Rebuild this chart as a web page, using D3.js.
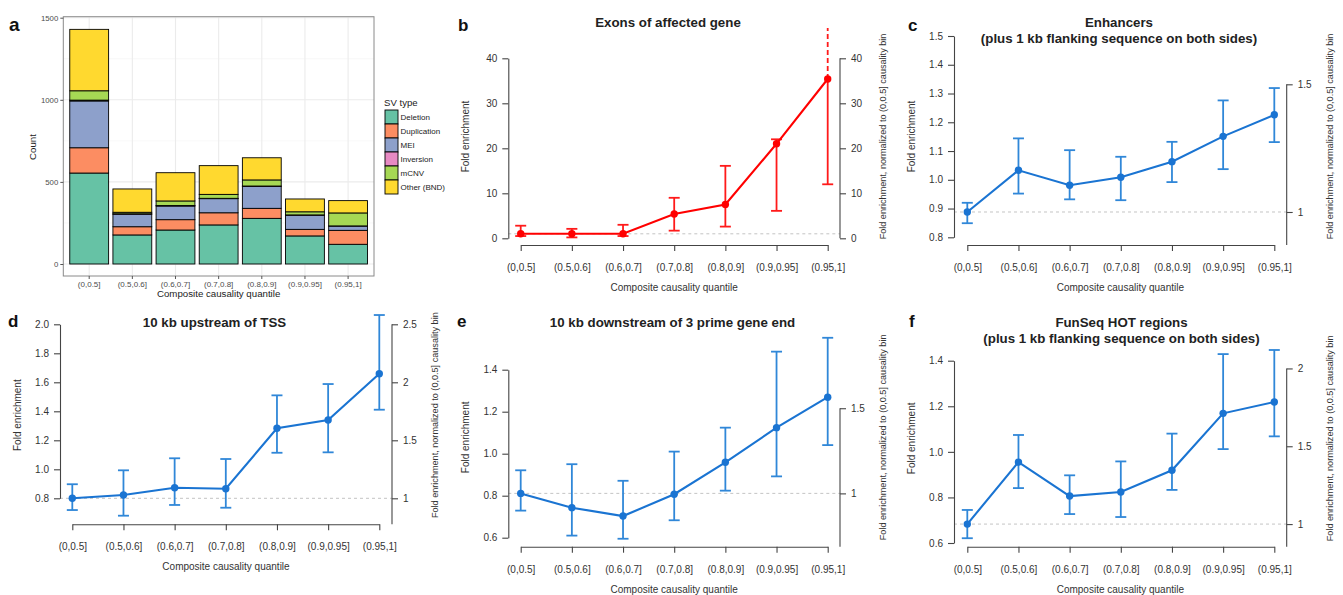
<!DOCTYPE html>
<html lang="en">
<head>
<meta charset="UTF-8">
<title>SV causality enrichment</title>
<script src="https://d3js.org/d3.v7.min.js"></script>
<style>
  body { margin: 0; background: #fff; }
  svg { font-family: "Liberation Sans", Arial, Helvetica, sans-serif; }
</style>
</head>
<body>
<script>
// ---- data ----
const quantiles = ['(0,0.5]', '(0.5,0.6]', '(0.6,0.7]', '(0.7,0.8]', '(0.8,0.9]', '(0.9,0.95]', '(0.95,1]']

// panel a, counts per SV type
const svTypes = ['Deletion', 'Duplication', 'MEI', 'Inversion', 'mCNV', 'Other (BND)']
const svColors = ['#66c2a5', '#fc8d62', '#8da0cb', '#e78ac3', '#a6d854', '#ffd92f']
const deletionCounts = [554, 177, 207, 238, 278, 171, 120]
const duplicationCounts = [154, 50, 63, 74, 61, 40, 85]
const meiCounts = [285, 76, 83, 86, 134, 86, 26]
const inversionCounts = [5, 3, 3, 2, 2, 2, 1]
const mcnvCounts = [57, 9, 28, 24, 37, 19, 79]
const otherCounts = [374, 142, 172, 175, 135, 78, 75]
const countTicks = [0, 500, 1000, 1500]

// panel b (last upper bound runs off the top of the plot)
const exonsFold = [1.0, 1.0, 1.0, 5.4, 7.5, 21.0, 35.4]
const exonsLower = [0.5, 0.2, 0.5, 1.7, 2.6, 6.1, 12.0]
const exonsUpper = [2.8, 2.1, 3.0, 9.0, 16.1, 22.0, 60]
const exonsTicks = [0, 10, 20, 30, 40]
const exonsNormTicks = [0, 10, 20, 30, 40]

// panel c
const enhFold = [0.888, 1.033, 0.981, 1.009, 1.063, 1.151, 1.226]
const enhLower = [0.849, 0.952, 0.932, 0.929, 0.992, 1.037, 1.131]
const enhUpper = [0.920, 1.144, 1.103, 1.080, 1.132, 1.276, 1.319]
const enhTicks = [0.8, 0.9, 1.0, 1.1, 1.2, 1.3, 1.4, 1.5]
const enhNormTicks = [1, 1.5]

// panel d
const tssFold = [0.800, 0.823, 0.873, 0.866, 1.283, 1.340, 1.659]
const tssLower = [0.719, 0.680, 0.754, 0.735, 1.114, 1.117, 1.411]
const tssUpper = [0.897, 0.993, 1.076, 1.071, 1.510, 1.588, 2.064]
const tssTicks = [0.8, 1.0, 1.2, 1.4, 1.6, 1.8, 2.0]
const tssNormTicks = [1, 1.5, 2, 2.5]

// panel e
const downFold = [0.811, 0.743, 0.703, 0.807, 0.959, 1.124, 1.269]
const downLower = [0.729, 0.610, 0.595, 0.683, 0.824, 0.892, 1.041]
const downUpper = [0.921, 0.950, 0.871, 1.010, 1.124, 1.486, 1.552]
const downTicks = [0.6, 0.8, 1.0, 1.2, 1.4]
const downNormTicks = [1, 1.5]

// panel f
const hotFold = [0.683, 0.955, 0.806, 0.824, 0.919, 1.169, 1.219]
const hotLower = [0.621, 0.841, 0.727, 0.714, 0.833, 1.012, 1.068]
const hotUpper = [0.745, 1.074, 0.897, 0.958, 1.080, 1.429, 1.447]
const hotTicks = [0.6, 0.8, 1.0, 1.2, 1.4]
const hotNormTicks = [1, 1.5, 2]

const svg = d3.select('body').append('svg')
  .attr('width', 1343)
  .attr('height', 595)

function panelLetter(letter, x, y, size) {
  svg.append('text')
    .attr('x', x).attr('y', y)
    .attr('font-size', size || 17).attr('font-weight', 'bold')
    .attr('fill', '#111')
    .text(letter)
}

// ---- panel a: stacked bars (ggplot look) ----
function drawBars() {
  const panel = { left: 63.3, right: 374, top: 16.7, bottom: 276 }
  const rows = quantiles.map((q, i) => ({
    q,
    'Deletion': deletionCounts[i],
    'Duplication': duplicationCounts[i],
    'MEI': meiCounts[i],
    'Inversion': inversionCounts[i],
    'mCNV': mcnvCounts[i],
    'Other (BND)': otherCounts[i]
  }))
  const stacked = d3.stack().keys(svTypes)(rows)

  const x = d3.scaleBand().domain(quantiles)
    .range([panel.left, panel.right])
    .paddingInner(0.1).paddingOuter(0.15)
  const y = d3.scaleLinear().domain([0, 1500]).range([264, 17.7])

  const g = svg.append('g')

  // grid
  const minor = [250, 750, 1250]
  g.selectAll('.minor').data(minor).enter().append('line')
    .attr('x1', panel.left).attr('x2', panel.right)
    .attr('y1', d => y(d)).attr('y2', d => y(d))
    .attr('stroke', '#f3f3f3').attr('stroke-width', 0.6)
  g.selectAll('.major').data(countTicks).enter().append('line')
    .attr('x1', panel.left).attr('x2', panel.right)
    .attr('y1', d => y(d)).attr('y2', d => y(d))
    .attr('stroke', '#ebebeb').attr('stroke-width', 1.1)
  g.selectAll('.vgrid').data(quantiles).enter().append('line')
    .attr('x1', d => x(d) + x.bandwidth() / 2).attr('x2', d => x(d) + x.bandwidth() / 2)
    .attr('y1', panel.top).attr('y2', panel.bottom)
    .attr('stroke', '#ebebeb').attr('stroke-width', 1.1)

  // bars
  stacked.forEach((layer, k) => {
    g.selectAll('.seg' + k).data(layer).enter().append('rect')
      .attr('x', d => x(d.data.q))
      .attr('width', x.bandwidth())
      .attr('y', d => y(d[1]))
      .attr('height', d => y(d[0]) - y(d[1]))
      .attr('fill', svColors[k])
      .attr('stroke', '#000')
      .attr('stroke-width', 0.9)
  })

  // border
  g.append('rect')
    .attr('x', panel.left).attr('y', panel.top)
    .attr('width', panel.right - panel.left).attr('height', panel.bottom - panel.top)
    .attr('fill', 'none').attr('stroke', '#8a8a8a').attr('stroke-width', 1)

  // axes
  const yAxis = g.append('g')
    .attr('transform', `translate(${panel.left},0)`)
    .call(d3.axisLeft(y).tickValues(countTicks).tickSize(3).tickPadding(2).tickFormat(d3.format('d')))
  yAxis.select('.domain').remove()
  yAxis.selectAll('line').attr('stroke', '#555')
  yAxis.selectAll('text').attr('font-size', 7.8).attr('fill', '#4d4d4d').attr('font-family', null)

  const xAxis = g.append('g')
    .attr('transform', `translate(0,${panel.bottom})`)
    .call(d3.axisBottom(x).tickSize(3).tickPadding(2))
  xAxis.select('.domain').remove()
  xAxis.selectAll('line').attr('stroke', '#555')
  xAxis.selectAll('text').attr('font-size', 8).attr('fill', '#4d4d4d').attr('font-family', null)

  g.append('text')
    .attr('x', (panel.left + panel.right) / 2).attr('y', 297)
    .attr('text-anchor', 'middle').attr('font-size', 9.7).attr('fill', '#222')
    .text('Composite causality quantile')
  g.append('text')
    .attr('transform', 'translate(36,147) rotate(-90)')
    .attr('text-anchor', 'middle').attr('font-size', 9.7).attr('fill', '#222')
    .text('Count')

  // legend
  const lg = g.append('g').attr('transform', 'translate(385,110)')
  lg.append('text').attr('x', -1).attr('y', -4)
    .attr('font-size', 9.6).attr('fill', '#222').text('SV type')
  svTypes.forEach((t, i) => {
    lg.append('rect')
      .attr('x', 0).attr('y', i * 14)
      .attr('width', 13).attr('height', 14)
      .attr('fill', svColors[i]).attr('stroke', '#000').attr('stroke-width', 0.9)
    lg.append('text')
      .attr('x', 15.5).attr('y', i * 14 + 7).attr('dy', '0.35em')
      .attr('font-size', 8).attr('fill', '#222').text(t)
  })

  panelLetter('a', 9, 31, 19)
}

// ---- panels b-f: fold enrichment with error bars ----
function drawEnrichment(cfg) {
  const b = cfg.box
  const g = svg.append('g')
  const tMin = d3.min(cfg.ticks), tMax = d3.max(cfg.ticks)
  const y = d3.scaleLinear().domain([tMin, tMax]).range([b.tickBottom, b.tickTop])
  const x = d3.scalePoint().domain(quantiles).range([b.catL, b.catR])
  const ref = cfg.fold[0]
  const yNorm = d3.scaleLinear().domain([tMin / ref, tMax / ref]).range([b.tickBottom, b.tickTop])

  // reference line at the first bin
  g.append('line')
    .attr('x1', b.left).attr('x2', b.right)
    .attr('y1', y(ref)).attr('y2', y(ref))
    .attr('stroke', '#c4c4c4').attr('stroke-width', 1)
    .attr('stroke-dasharray', '3,3')

  // left axis
  const la = g.append('g').attr('transform', `translate(${b.left},0)`)
    .call(d3.axisLeft(y).tickValues(cfg.ticks).tickSize(6).tickPadding(5)
      .tickSizeOuter(0).tickFormat(cfg.fmt))
  // right axis
  const ra = g.append('g').attr('transform', `translate(${b.right},0)`)
    .call(d3.axisRight(yNorm).tickValues(cfg.normTicks).tickSize(6).tickPadding(5)
      .tickFormat(d3.format('~g')))
  ra.select('.domain').remove()
  const rTop = yNorm(d3.max(cfg.normTicks))
  const rBottom = cfg.rightToBottom ? b.axisY : yNorm(d3.min(cfg.normTicks))
  ra.append('line').attr('x1', 0).attr('x2', 0).attr('y1', rTop).attr('y2', rBottom)
    .attr('stroke', '#444').attr('stroke-width', 1.1)
  // bottom axis
  const xa = g.append('g').attr('transform', `translate(0,${b.axisY})`)
    .call(d3.axisBottom(x).tickSize(6).tickPadding(13).tickSizeOuter(0))

  ;[la, ra, xa].forEach(a => {
    a.attr('font-family', null).attr('font-size', null)
    a.selectAll('.domain').attr('stroke', '#444').attr('stroke-width', 1.1)
    a.selectAll('.tick line').attr('stroke', '#444').attr('stroke-width', 1.1)
    a.selectAll('text').attr('font-size', 10).attr('fill', '#333')
  })

  // axis titles
  g.append('text')
    .attr('x', (b.left + b.right) / 2).attr('y', b.axisY + 46)
    .attr('text-anchor', 'middle').attr('font-size', 10).attr('fill', '#333')
    .text('Composite causality quantile')
  const midY = (b.plotTop + b.axisY) / 2
  g.append('text')
    .attr('transform', `translate(${b.left - 39},${midY}) rotate(-90)`)
    .attr('text-anchor', 'middle').attr('font-size', 10).attr('fill', '#333')
    .text('Fold enrichment')
  g.append('text')
    .attr('transform', `translate(${b.right + 46},${midY}) rotate(-90)`)
    .attr('text-anchor', 'middle').attr('font-size', 9.1).attr('fill', '#333')
    .text('Fold enrichment, normalized to (0,0.5] causality bin')

  // title
  cfg.title.forEach((line, i) => {
    g.append('text')
      .attr('x', cfg.titleX).attr('y', b.titleY + i * 16)
      .attr('text-anchor', 'middle').attr('font-size', 13.3).attr('font-weight', 'bold')
      .attr('fill', '#222')
      .text(line)
  })

  // error bars; an upper bound beyond the plot region is drawn dashed and clipped
  const cap = 5.5
  quantiles.forEach((q, i) => {
    const cx = x(q)
    const open = y(cfg.upper[i]) < b.plotTop
    const yUp = open ? b.plotTop : y(cfg.upper[i])
    g.append('line')
      .attr('x1', cx).attr('x2', cx)
      .attr('y1', y(cfg.lower[i])).attr('y2', y(cfg.fold[i]))
      .attr('stroke', cfg.errColor).attr('stroke-width', 1.8)
    g.append('line')
      .attr('x1', cx).attr('x2', cx)
      .attr('y1', y(cfg.fold[i])).attr('y2', yUp)
      .attr('stroke', cfg.errColor).attr('stroke-width', 1.8)
      .attr('stroke-dasharray', open ? '5,3' : null)
    g.append('line')
      .attr('x1', cx - cap).attr('x2', cx + cap)
      .attr('y1', y(cfg.lower[i])).attr('y2', y(cfg.lower[i]))
      .attr('stroke', cfg.errColor).attr('stroke-width', 1.8)
    if (!open) {
      g.append('line')
        .attr('x1', cx - cap).attr('x2', cx + cap)
        .attr('y1', yUp).attr('y2', yUp)
        .attr('stroke', cfg.errColor).attr('stroke-width', 1.8)
    }
  })

  // line + points
  const line = d3.line().x((d, i) => x(quantiles[i])).y(d => y(d))
  g.append('path').datum(cfg.fold)
    .attr('d', line).attr('fill', 'none')
    .attr('stroke', cfg.color).attr('stroke-width', 2.1)
  g.selectAll('.pt').data(cfg.fold).enter().append('circle')
    .attr('cx', (d, i) => x(quantiles[i])).attr('cy', d => y(d))
    .attr('r', 3.7).attr('fill', cfg.color)

  panelLetter(cfg.letter, cfg.letterX, cfg.letterY)
}

drawBars()

const red = '#ff0000'
const blue = '#1a74d2'
const blueErr = '#3087d8'

drawEnrichment({
  letter: 'b', letterX: 458, letterY: 31,
  title: ['Exons of affected gene'], titleX: 668,
  fold: exonsFold, lower: exonsLower, upper: exonsUpper,
  ticks: exonsTicks, normTicks: exonsNormTicks, fmt: d3.format('d'),
  color: red, errColor: '#ff1a1a', rightToBottom: false,
  box: { left: 508.3, right: 840, tickTop: 58.3, tickBottom: 238.3, axisY: 245, plotTop: 28, catL: 520.7, catR: 827.7, titleY: 27 }
})
drawEnrichment({
  letter: 'c', letterX: 908, letterY: 31,
  title: ['Enhancers', '(plus 1 kb flanking sequence on both sides)'], titleX: 1119,
  fold: enhFold, lower: enhLower, upper: enhUpper,
  ticks: enhTicks, normTicks: enhNormTicks, fmt: d3.format('.1f'),
  color: blue, errColor: blueErr, rightToBottom: true,
  box: { left: 954, right: 1286.7, tickTop: 36, tickBottom: 237.3, axisY: 245, plotTop: 28, catL: 967.3, catR: 1274.3, titleY: 27 }
})
drawEnrichment({
  letter: 'd', letterX: 8, letterY: 327,
  title: ['10 kb upstream of TSS'], titleX: 214.5,
  fold: tssFold, lower: tssLower, upper: tssUpper,
  ticks: tssTicks, normTicks: tssNormTicks, fmt: d3.format('.1f'),
  color: blue, errColor: blueErr, rightToBottom: true,
  box: { left: 60, right: 392, tickTop: 324.3, tickBottom: 498.3, axisY: 524.3, plotTop: 306, catL: 72.3, catR: 379.3, titleY: 327 }
})
drawEnrichment({
  letter: 'e', letterX: 457, letterY: 327,
  title: ['10 kb downstream of 3 prime gene end'], titleX: 672.5,
  fold: downFold, lower: downLower, upper: downUpper,
  ticks: downTicks, normTicks: downNormTicks, fmt: d3.format('.1f'),
  color: blue, errColor: blueErr, rightToBottom: true,
  box: { left: 508.3, right: 840, tickTop: 369.7, tickBottom: 537.7, axisY: 546.7, plotTop: 328, catL: 520.7, catR: 827.7, titleY: 327 }
})
drawEnrichment({
  letter: 'f', letterX: 909, letterY: 327,
  title: ['FunSeq HOT regions', '(plus 1 kb flanking sequence on both sides)'], titleX: 1121.5,
  fold: hotFold, lower: hotLower, upper: hotUpper,
  ticks: hotTicks, normTicks: hotNormTicks, fmt: d3.format('.1f'),
  color: blue, errColor: blueErr, rightToBottom: true,
  box: { left: 954, right: 1286.7, tickTop: 360.7, tickBottom: 543, axisY: 546.7, plotTop: 330, catL: 967.3, catR: 1274.3, titleY: 327 }
})
</script>
</body>
</html>
